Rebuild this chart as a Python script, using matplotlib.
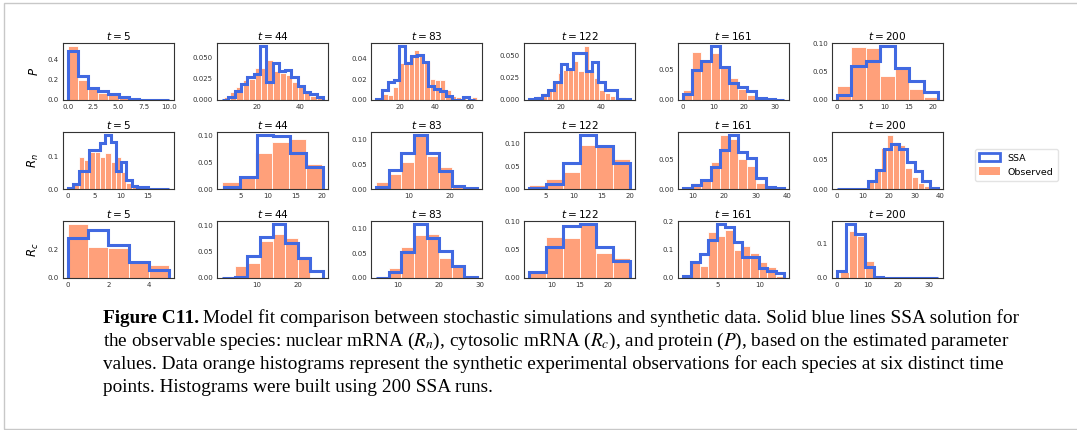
import numpy as np
import matplotlib.pyplot as plt
from matplotlib.patches import Patch, Rectangle
from matplotlib.ticker import MaxNLocator

times = [5, 44, 83, 122, 161, 200]
row_labels = ['$P$', '$R_n$', '$R_c$']

# each panel: first bin edge, bin width and density heights
p_ssa_start = [0, 3.4, 6.5, 4.0, 0, 0]
p_ssa_width = [1, 2.97, 3.33, 3.15, 3, 3]
p_ssa = [
    [0.48, 0.232, 0.119, 0.086, 0.063, 0.026, 0.008, 0.003, 0.002, 0.003],
    [0.0005, 0.003, 0.011, 0.019, 0.027, 0.031, 0.064, 0.021, 0.044, 0.034, 0.035, 0.027, 0.016, 0.010, 0.007, 0.004],
    [0.001, 0.010, 0.017, 0.019, 0.052, 0.035, 0.0425, 0.043, 0.036, 0.0134, 0.011, 0.009, 0.004, 0.0, 0.0, 0.003, 0.0],
    [0.001, 0.002, 0.006, 0.011, 0.02, 0.04, 0.035, 0.053, 0.053, 0.033, 0.043, 0.02, 0.011, 0.011, 0.001, 0.001],
    [0.0096, 0.049, 0.064, 0.088, 0.054, 0.028, 0.021, 0.015, 0.003, 0.001, 0.0005],
    [0.0093, 0.061, 0.0686, 0.096, 0.056, 0.034, 0.015],
]
p_obs_start = [0, 4.4, 7.2, 5.3, 0, 0]
p_obs_width = [1, 2.9, 3.0, 2.6, 3, 3]
p_obs = [
    [0.533, 0.2, 0.112, 0.072, 0.05, 0.026, 0.005],
    [0.003, 0.01, 0.0156, 0.023, 0.025, 0.038, 0.038, 0.047, 0.034, 0.032, 0.03, 0.021, 0.017, 0.01, 0.005, 0.003],
    [0.001, 0.006, 0.005, 0.012, 0.035, 0.037, 0.042, 0.048, 0.042, 0.036, 0.02, 0.019, 0.019, 0.01, 0.004, 0.003, 0.002, 0.001, 0.003],
    [0.002, 0.004, 0.008, 0.012, 0.02, 0.03, 0.034, 0.035, 0.044, 0.033, 0.061, 0.033, 0.025, 0.011, 0.008, 0.005, 0.002, 0.003],
    [0.016, 0.077, 0.062, 0.076, 0.052, 0.035, 0.018, 0.0085],
    [0.0256, 0.0936, 0.092, 0.042, 0.056, 0.019, 0.0047],
]

rn_ssa_start = [0, 1.8, 1.9, 2.07, 6.75, 0]
rn_ssa_width = [1, 3.05, 3.09, 2.98, 2.94, 3]
rn_ssa = [
    [0.003, 0.015, 0.056, 0.056, 0.121, 0.121, 0.143, 0.168, 0.146, 0.055, 0.085, 0.028, 0.010, 0.005, 0.005, 0.001, 0.001, 0.001, 0.001],
    [0.0036, 0.022, 0.102, 0.100, 0.067, 0.041],
    [0.004, 0.038, 0.073, 0.11, 0.073, 0.037, 0.006, 0.0013],
    [0.003, 0.010, 0.058, 0.12, 0.096, 0.057],
    [0.001, 0.006, 0.0156, 0.037, 0.066, 0.092, 0.062, 0.053, 0.018, 0.003, 0.001],
    [0, 0, 0, 0, 0.014, 0.032, 0.068, 0.077, 0.067, 0.046, 0.031, 0.013, 0.002],
]
rn_obs_start = [0, 1.5, 1.9, 2.07, 6.75, 12]
rn_obs_width = [1, 3.08, 3.09, 2.98, 2.94, 2.4]
rn_obs = [
    [0.006, 0.018, 0.1, 0.09, 0.115, 0.115, 0.10, 0.11, 0.083, 0.1, 0.052, 0.02, 0.008, 0.003],
    [0.014, 0.02, 0.067, 0.088, 0.094, 0.047],
    [0.015, 0.031, 0.054, 0.107, 0.067, 0.045, 0.004],
    [0.009, 0.022, 0.038, 0.098, 0.093, 0.067],
    [0.003, 0.01, 0.013, 0.045, 0.091, 0.085, 0.05, 0.039, 0.011, 0.0055],
    [0.014, 0.032, 0.07, 0.092, 0.08, 0.075, 0.035, 0.02, 0.01, 0.005],
]

rc_ssa_start = [0, 1.5, 4.8, 6.0, 0.9, 0]
rc_ssa_width = [1, 3.08, 3.07, 3.0, 1, 3]
rc_ssa = [
    [0.283, 0.338, 0.23, 0.115, 0.053],
    [0.0, 0.001, 0.042, 0.078, 0.103, 0.066, 0.037, 0.014],
    [0.001, 0.013, 0.053, 0.11, 0.081, 0.055, 0.025, 0.003],
    [0.01, 0.055, 0.092, 0.096, 0.054, 0.030],
    [0.006, 0.058, 0.084, 0.136, 0.192, 0.18, 0.126, 0.076, 0.076, 0.037, 0.026, 0.017],
    [0.019, 0.157, 0.126, 0.033, 0.003, 0.001, 0.0, 0.0, 0.0, 0.0, 0.001],
]
rc_obs_start = [0, 4.58, 4.8, 6.0, 1.9, 1.0]
rc_obs_width = [1, 3.08, 3.07, 3.0, 1, 2.75]
rc_obs = [
    [0.38, 0.214, 0.207, 0.11, 0.092],
    [0.023, 0.029, 0.07, 0.083, 0.076, 0.042],
    [0.0, 0.02, 0.063, 0.087, 0.089, 0.04, 0.023],
    [0.013, 0.073, 0.071, 0.095, 0.044, 0.035],
    [0.052, 0.044, 0.163, 0.148, 0.171, 0.099, 0.114, 0.09, 0.058, 0.038, 0.008],
    [0.016, 0.136, 0.122, 0.05],
]

rows = [
    (p_obs_start, p_obs_width, p_obs, p_ssa_start, p_ssa_width, p_ssa),
    (rn_obs_start, rn_obs_width, rn_obs, rn_ssa_start, rn_ssa_width, rn_ssa),
    (rc_obs_start, rc_obs_width, rc_obs, rc_ssa_start, rc_ssa_width, rc_ssa),
]

blue = '#4169E1'
orange = '#FFA07A'

fig = plt.figure(figsize=(10.77, 4.30), dpi=100)

col_left = [63, 217, 371, 524, 678, 832]
row_top = [43, 132, 221]
W, H = 1077, 430

for r, (os_, ow, oh, ss, sw, sh) in enumerate(rows):
    for c, t in enumerate(times):
        ax = fig.add_axes([col_left[c] / W, 1 - (row_top[r] + 57) / H, 111 / W, 57 / H])
        e_obs = os_[c] + ow[c] * np.arange(len(oh[c]) + 1)
        e_ssa = ss[c] + sw[c] * np.arange(len(sh[c]) + 1)
        ax.bar(e_obs[:-1], oh[c], width=ow[c], align='edge', color=orange,
               edgecolor='white', linewidth=0.6, zorder=1)
        ax.stairs(sh[c], e_ssa, color=blue, linewidth=2.2, baseline=0, zorder=2)
        ax.set_title(f'$t = {t}$', fontsize=7.6, pad=2.5)
        ax.xaxis.set_major_locator(MaxNLocator(nbins=5, steps=[1, 2, 2.5, 5, 10]))
        ax.yaxis.set_major_locator(MaxNLocator(nbins=3, steps=[1, 2, 2.5, 5, 10]))
        ax.tick_params(length=0, labelsize=5, colors='#333333', pad=3)
        for s in ax.spines.values():
            s.set_color('#333333')
            s.set_linewidth(0.8)
        if c == 0:
            ax.set_ylabel(row_labels[r], fontsize=8.5)
            ax.yaxis.set_label_coords(-0.2, 0.5)

handles = [Patch(facecolor='none', edgecolor=blue, linewidth=2, label='SSA'),
           Patch(facecolor=orange, edgecolor='none', label='Observed')]
fig.legend(handles=handles, loc='center left', bbox_to_anchor=(970 / W, 1 - 165 / H),
           fontsize=6.8, frameon=True, edgecolor='#dddddd', fancybox=True,
           handlelength=2.2, handleheight=0.9, borderpad=0.5)

# caption
serif = 'Liberation Serif'
fs = 13.9
x0 = 103 / W
fig.canvas.draw()
renderer = fig.canvas.get_renderer()
bold = fig.text(x0, 1 - 323 / H, 'Figure C11.', fontsize=fs, family=serif, weight='bold')
bb = bold.get_window_extent(renderer)
fig.text(bb.x1 / W + 4 / W, 1 - 323 / H,
         'Model fit comparison between stochastic simulations and synthetic data. Solid blue lines SSA solution for',
         fontsize=fs, family=serif)
lines = [
    r'the observable species: nuclear mRNA ($R_n$), cytosolic mRNA ($R_c$), and protein ($P$), based on the estimated parameter',
    'values. Data orange histograms represent the synthetic experimental observations for each species at six distinct time',
    'points. Histograms were built using 200 SSA runs.',
]
for i, s in enumerate(lines):
    fig.text(x0, 1 - (323 + 23 * (i + 1)) / H, s, fontsize=fs, family=serif, math_fontfamily='stix')

fig.add_artist(Rectangle((4 / W, 1 / H), 1.2, 1 - 4 / H, transform=fig.transFigure,
                         fill=False, edgecolor='#c8c8c8', linewidth=1))

fig.savefig('out.png', dpi=100)
